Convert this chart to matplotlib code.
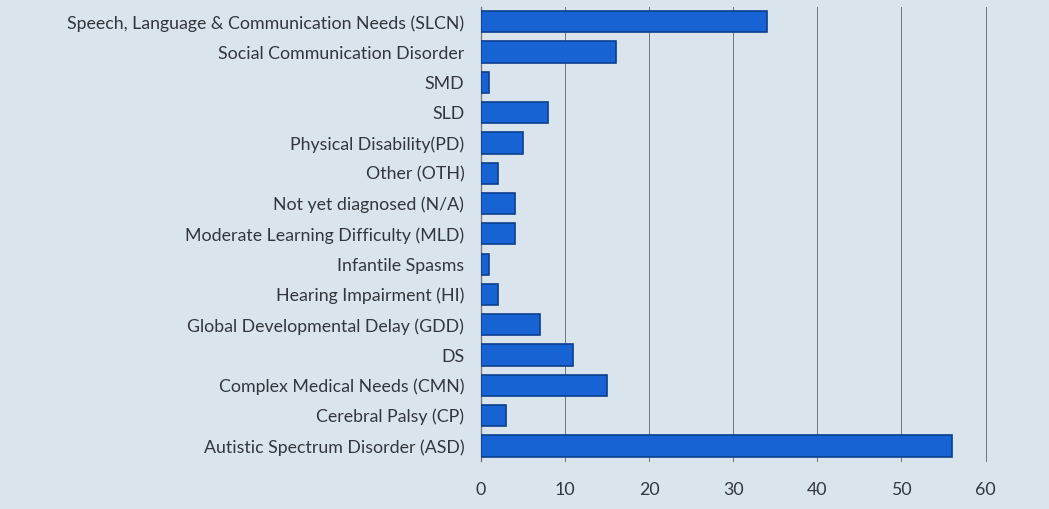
import matplotlib.pyplot as plt

# Categories listed bottom to top, as they appear on the chart
categories = [
    "Autistic Spectrum Disorder (ASD)",
    "Cerebral Palsy (CP)",
    "Complex Medical Needs (CMN)",
    "DS",
    "Global Developmental Delay (GDD)",
    "Hearing Impairment (HI)",
    "Infantile Spasms",
    "Moderate Learning Difficulty (MLD)",
    "Not yet diagnosed (N/A)",
    "Other (OTH)",
    "Physical Disability(PD)",
    "SLD",
    "SMD",
    "Social Communication Disorder",
    "Speech, Language & Communication Needs (SLCN)",
]
counts = [56, 3, 15, 11, 7, 2, 1, 4, 4, 2, 5, 8, 1, 16, 34]
x_ticks = [0, 10, 20, 30, 40, 50, 60]

bg_color = "#dae4ed"
bar_color = "#1763d3"
edge_color = "#0b3f8f"
text_color = "#33373c"

plt.rcParams["font.family"] = ["Lato", "DejaVu Sans"]

fig = plt.figure(figsize=(10.49, 5.09), dpi=100)
fig.patch.set_facecolor(bg_color)
ax = fig.add_axes([0.4585, 0.094, 0.481, 0.893])
ax.set_facecolor(bg_color)

ypos = range(len(categories))
ax.barh(ypos, counts, height=0.7, color=bar_color, edgecolor=edge_color,
        linewidth=1.2, zorder=3)

ax.set_xlim(0, 60)
ax.set_ylim(-0.5, len(categories) - 0.5)
ax.set_xticks(x_ticks)
ax.set_yticks(list(ypos))
ax.set_yticklabels(categories)

ax.grid(axis="x", color="#6f747b", linewidth=0.7, zorder=0)
for line in ax.get_xgridlines():
    line.set_clip_on(False)
for side in ["top", "right", "bottom"]:
    ax.spines[side].set_visible(False)
ax.spines["left"].set_color("#6f747b")
ax.spines["left"].set_linewidth(0.9)

ax.tick_params(axis="y", length=0, pad=12, labelsize=12.8, labelcolor=text_color)
ax.tick_params(axis="x", length=0, pad=15, labelsize=12.8, labelcolor=text_color)

fig.savefig("out.png", dpi=100, facecolor=bg_color)
